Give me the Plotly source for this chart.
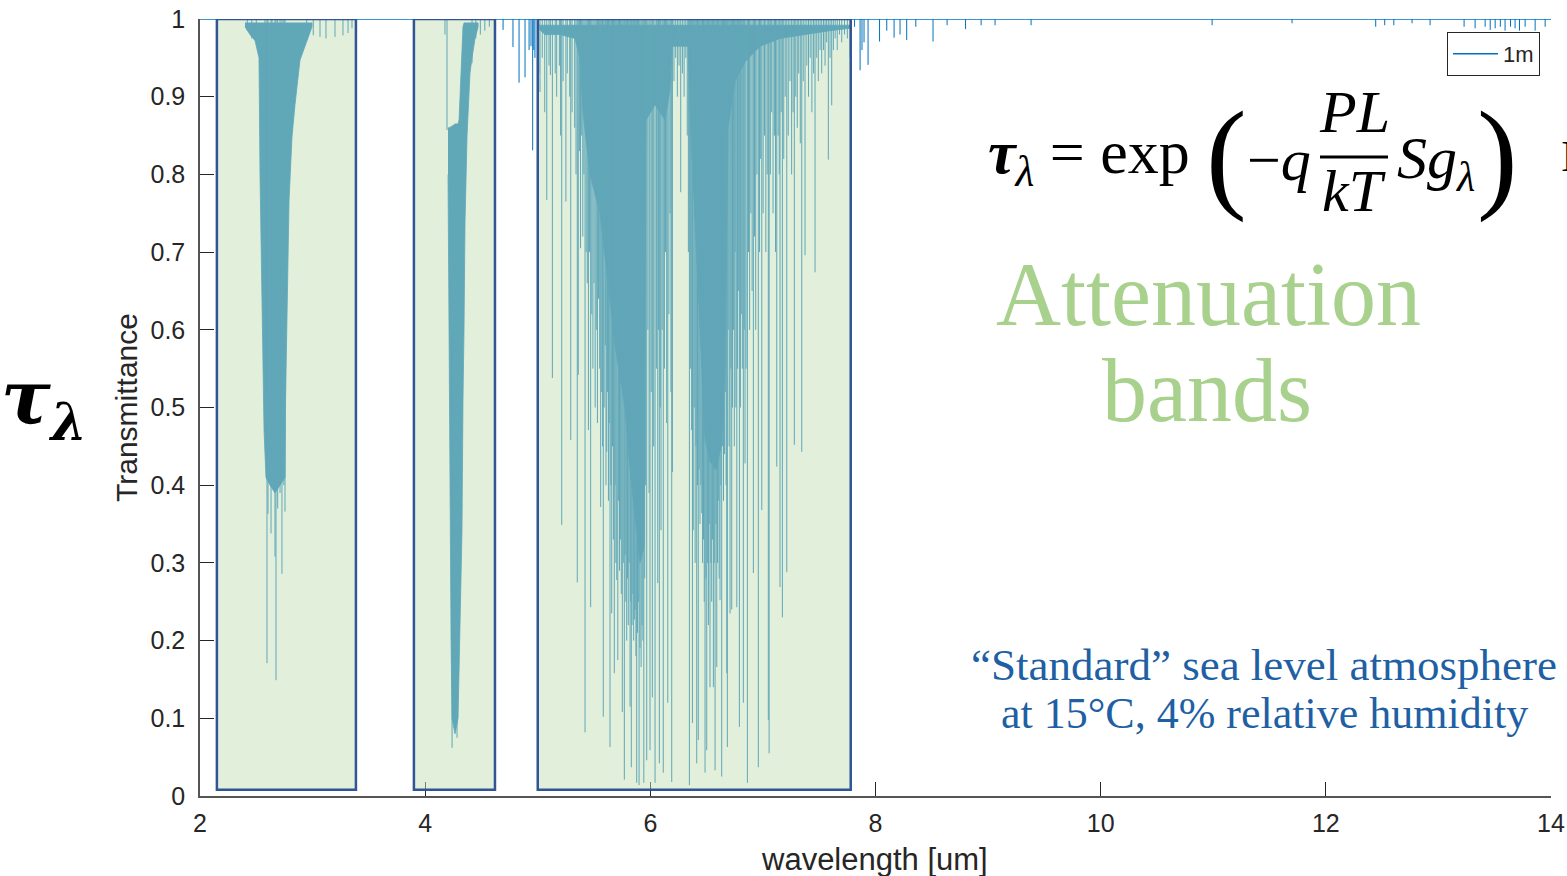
import plotly.graph_objects as go

# ---------------- data ----------------
x_ticks = [2, 4, 6, 8, 10, 12, 14]
y_ticks = [0, 0.1, 0.2, 0.3, 0.4, 0.5, 0.6, 0.7, 0.8, 0.9, 1.0]
y_tick_text = ["0", "0.1", "0.2", "0.3", "0.4", "0.5", "0.6", "0.7", "0.8", "0.9", "1"]

# continuum (no absorption)
cont_wl = [2.0, 14.0]
cont_tr = [1.0, 1.0]

# attenuation band rectangles
band_start = [2.15, 3.90, 5.00]
band_end = [3.385, 4.62, 7.78]
band_bottom = 0.008
band_top = 1.0

# densely absorbed regions: upper / lower envelope of the oscillating spectrum
b1_wl = [2.400, 2.444, 2.489, 2.524, 2.533, 2.542, 2.557, 2.569, 2.586, 2.622, 2.666,
         2.711, 2.755, 2.760, 2.773, 2.791, 2.817, 2.844, 2.888, 2.950, 2.995]
b1_hi = [0.995, 0.995, 0.995, 0.995, 0.995, 0.995, 0.995, 0.995, 0.995, 0.995, 0.995,
         0.995, 0.995, 0.995, 0.995, 0.995, 0.995, 0.995, 0.995, 0.995, 0.995]
b1_lo = [0.990, 0.980, 0.972, 0.950, 0.800, 0.745, 0.583, 0.470, 0.410, 0.400, 0.390,
         0.400, 0.410, 0.510, 0.625, 0.767, 0.848, 0.890, 0.947, 0.973, 0.990]

b2_wl = [4.203, 4.212, 4.221, 4.230, 4.239, 4.265, 4.292, 4.301, 4.310, 4.327, 4.336,
         4.345, 4.354, 4.372, 4.398, 4.416, 4.443, 4.470]
b2_hi = [0.860, 0.860, 0.860, 0.862, 0.862, 0.865, 0.865, 0.870, 0.900, 0.950, 0.990,
         0.995, 0.995, 0.995, 0.995, 0.995, 0.995, 0.995]
b2_lo = [0.800, 0.580, 0.400, 0.200, 0.100, 0.080, 0.100, 0.150, 0.230, 0.340, 0.510,
         0.600, 0.740, 0.850, 0.930, 0.950, 0.975, 0.990]

b3_wl = [5.003, 5.065, 5.198, 5.331, 5.375, 5.402, 5.464, 5.553, 5.624, 5.686, 5.731,
         5.775, 5.820, 5.864, 5.908, 5.944, 5.962, 6.042, 6.131, 6.175, 6.193, 6.335,
         6.362, 6.397, 6.442, 6.486, 6.530, 6.584, 6.629, 6.664, 6.690, 6.752, 6.841,
         6.974, 7.152, 7.374, 7.596, 7.774]
b3_hi = [0.992, 0.992, 0.992, 0.992, 0.992, 0.992, 0.992, 0.992, 0.992, 0.992, 0.992,
         0.992, 0.992, 0.992, 0.992, 0.992, 0.992, 0.992, 0.992, 0.992, 0.992, 0.992,
         0.992, 0.992, 0.992, 0.992, 0.992, 0.992, 0.992, 0.992, 0.992, 0.992, 0.992,
         0.992, 0.992, 0.992, 0.992, 0.992]
b3_lo = [0.988, 0.980, 0.980, 0.975, 0.950, 0.880, 0.800, 0.750, 0.660, 0.580, 0.540,
         0.500, 0.420, 0.360, 0.300, 0.320, 0.870, 0.890, 0.870, 0.910, 0.965, 0.965,
         0.850, 0.750, 0.600, 0.460, 0.430, 0.420, 0.450, 0.550, 0.860, 0.920, 0.945,
         0.965, 0.975, 0.980, 0.985, 0.988]

# individual absorption lines (wavelength, minimum transmittance), starting from 1
line_wl = [
    # band 1
    2.420, 2.460, 2.500, 2.577, 2.595, 2.604, 2.631, 2.640, 2.666, 2.675, 2.690, 2.711,
    2.728, 2.745, 2.755, 2.948, 3.006, 3.066, 3.119, 3.199, 3.270, 3.315, 3.350,
    # band 2 wings
    4.176, 4.194, 4.416, 4.450, 4.490, 4.530, 4.570,
    # between band 2 and 3
    4.692, 4.780, 4.834, 4.887, 4.923, 4.940, 4.955, 4.965, 4.975,
    # band 3
    5.010, 5.020, 5.040, 5.062, 5.080, 5.100, 5.112, 5.130, 5.155, 5.168, 5.192, 5.203,
    5.213, 5.225, 5.250, 5.262, 5.284, 5.293, 5.305, 5.328, 5.340, 5.351, 5.360, 5.370,
    5.380, 5.390, 5.400, 5.410, 5.420, 5.430, 5.440, 5.450, 5.460, 5.470, 5.480, 5.490,
    5.500, 5.510, 5.520, 5.530, 5.540, 5.550, 5.559, 5.568, 5.576, 5.582, 5.590, 5.600,
    5.606, 5.613, 5.620, 5.628, 5.635, 5.642, 5.650, 5.657, 5.664, 5.672, 5.680, 5.687,
    5.694, 5.702, 5.711, 5.718, 5.726, 5.734, 5.742, 5.751, 5.760, 5.769, 5.776, 5.783,
    5.790, 5.797, 5.804, 5.812, 5.820, 5.826, 5.831, 5.838, 5.845, 5.852, 5.858, 5.865,
    5.872, 5.879, 5.886, 5.893, 5.900, 5.908, 5.918, 5.926, 5.934, 5.942, 5.950, 5.958,
    5.968, 5.978, 5.989, 5.997, 6.008, 6.018, 6.030, 6.042, 6.054, 6.066, 6.073, 6.080,
    6.088, 6.095, 6.105, 6.115, 6.125, 6.135, 6.145, 6.155, 6.165, 6.175, 6.183, 6.190,
    6.196, 6.210, 6.225, 6.240, 6.255, 6.270, 6.285, 6.300, 6.315, 6.328, 6.338, 6.347,
    6.356, 6.367, 6.374, 6.381, 6.390, 6.398, 6.405, 6.412, 6.419, 6.426, 6.434, 6.441,
    6.449, 6.457, 6.464, 6.472, 6.479, 6.486, 6.494, 6.501, 6.509, 6.516, 6.523, 6.530,
    6.538, 6.545, 6.553, 6.560, 6.568, 6.575, 6.583, 6.590, 6.597, 6.604, 6.611, 6.619,
    6.627, 6.634, 6.642, 6.650, 6.658, 6.666, 6.673, 6.679, 6.684, 6.692, 6.700, 6.708,
    6.715, 6.723, 6.730, 6.738, 6.746, 6.753, 6.760, 6.768, 6.775, 6.782, 6.791, 6.800,
    6.808, 6.817, 6.826, 6.834, 6.841, 6.850, 6.862, 6.872, 6.882, 6.893, 6.904, 6.915,
    6.925, 6.936, 6.947, 6.959, 6.970, 6.980, 6.990, 7.002, 7.014, 7.026, 7.038, 7.048,
    7.055, 7.066, 7.078, 7.090, 7.102, 7.112, 7.123, 7.135, 7.145, 7.152, 7.162, 7.173,
    7.185, 7.198, 7.212, 7.225, 7.240, 7.255, 7.268, 7.279, 7.292, 7.305, 7.318, 7.332,
    7.345, 7.358, 7.374, 7.390, 7.405, 7.420, 7.435, 7.450, 7.463, 7.478, 7.492, 7.508,
    7.522, 7.538, 7.552, 7.566, 7.581, 7.596, 7.611, 7.626, 7.642, 7.660, 7.680, 7.700,
    7.725, 7.750, 7.775,
    # beyond band 3
    7.814, 7.863, 7.880, 7.898, 7.934, 8.036, 8.100, 8.165, 8.218, 8.277, 8.358, 8.511,
    8.636, 8.800, 8.938, 9.062, 9.382, 10.990, 11.700, 12.443, 12.523, 12.604, 12.766,
    12.926, 13.228, 13.326, 13.415, 13.460, 13.504, 13.550, 13.592, 13.640, 13.681,
    13.720, 13.770, 13.859, 13.948,
]
line_min = [
    0.985, 0.975, 0.970, 0.470, 0.171, 0.363, 0.338, 0.420, 0.308, 0.149, 0.370, 0.390,
    0.286, 0.400, 0.366, 0.973, 0.979, 0.977, 0.975, 0.977, 0.979, 0.982, 0.988,
    0.980, 0.857, 0.943, 0.975, 0.980, 0.985, 0.990,
    0.986, 0.964, 0.918, 0.925, 0.960, 0.965, 0.831, 0.960, 0.950,
    0.930, 0.906, 0.950, 0.880, 0.767, 0.940, 0.928, 0.538, 0.930, 0.900, 0.940, 0.850,
    0.349, 0.920, 0.765, 0.930, 0.900, 0.458, 0.880, 0.860, 0.800, 0.275, 0.542, 0.830,
    0.705, 0.850, 0.720, 0.800, 0.082, 0.700, 0.660, 0.471, 0.700, 0.243, 0.620, 0.550,
    0.660, 0.500, 0.600, 0.480, 0.640, 0.550, 0.372, 0.520, 0.450, 0.102, 0.500, 0.580,
    0.400, 0.443, 0.520, 0.380, 0.480, 0.063, 0.400, 0.235, 0.450, 0.330, 0.158, 0.400,
    0.300, 0.278, 0.175, 0.380, 0.290, 0.330, 0.260, 0.108, 0.300, 0.021, 0.310, 0.250,
    0.200, 0.280, 0.220, 0.300, 0.115, 0.250, 0.037, 0.220, 0.260, 0.200, 0.227, 0.240,
    0.180, 0.017, 0.210, 0.250, 0.014, 0.190, 0.166, 0.220, 0.200, 0.017, 0.280, 0.400,
    0.046, 0.600, 0.390, 0.059, 0.520, 0.127, 0.450, 0.017, 0.550, 0.274, 0.600, 0.042,
    0.500, 0.342, 0.600, 0.030, 0.550, 0.700, 0.480, 0.120, 0.620, 0.750, 0.520, 0.018,
    0.417, 0.920, 0.950, 0.900, 0.940, 0.777, 0.930, 0.900, 0.950, 0.850, 0.700, 0.014,
    0.550, 0.471, 0.094, 0.342, 0.500, 0.300, 0.450, 0.042, 0.400, 0.072, 0.420, 0.350,
    0.400, 0.364, 0.300, 0.330, 0.250, 0.030, 0.280, 0.059, 0.300, 0.220, 0.350, 0.140,
    0.300, 0.250, 0.330, 0.140, 0.300, 0.033, 0.350, 0.166, 0.300, 0.380, 0.280, 0.252,
    0.400, 0.025, 0.450, 0.380, 0.440, 0.520, 0.400, 0.158, 0.063, 0.600, 0.450, 0.235,
    0.550, 0.240, 0.500, 0.600, 0.450, 0.700, 0.500, 0.243, 0.550, 0.650, 0.089, 0.500,
    0.620, 0.550, 0.120, 0.600, 0.428, 0.550, 0.017, 0.700, 0.600, 0.750, 0.650, 0.287,
    0.720, 0.600, 0.800, 0.037, 0.700, 0.820, 0.368, 0.750, 0.850, 0.700, 0.800, 0.098,
    0.055, 0.800, 0.880, 0.750, 0.850, 0.700, 0.424, 0.850, 0.800, 0.269, 0.880, 0.230,
    0.820, 0.900, 0.288, 0.850, 0.920, 0.800, 0.880, 0.452, 0.900, 0.860, 0.930, 0.840,
    0.443, 0.920, 0.696, 0.940, 0.900, 0.950, 0.880, 0.930, 0.674, 0.950, 0.920, 0.960,
    0.930, 0.960, 0.940, 0.970, 0.819, 0.950, 0.889, 0.960, 0.975, 0.960, 0.980, 0.970,
    0.980, 0.975, 0.950,
    0.990, 0.934, 0.960, 0.970, 0.941, 0.971, 0.985, 0.976, 0.980, 0.973, 0.990, 0.971,
    0.992, 0.987, 0.992, 0.992, 0.992, 0.992, 0.9945, 0.990, 0.992, 0.992, 0.9945,
    0.992, 0.990, 0.988, 0.990, 0.986, 0.988, 0.990, 0.985, 0.990, 0.988,
    0.985, 0.990, 0.985, 0.990,
]
# deep CO2 lines inside the 4.3 um band (wavelength, start, minimum)
co2_wl = [4.239, 4.283]
co2_top = [0.60, 0.60]
co2_min = [0.062, 0.075]

# ---------------- styling ----------------
LINE = "#0072BD"
AX = "#262626"
W, H = 1567, 876
ML, MR, MT, MB = 200, 16, 19, 80
PW = W - ML - MR
PH = H - MT - MB


def px(xp):
    return (xp - ML) / PW


def py(yp):
    return (H - MB - yp) / PH


fig = go.Figure()

# dense regions
for wl, hi, lo in [(b1_wl, b1_hi, b1_lo), (b2_wl, b2_hi, b2_lo), (b3_wl, b3_hi, b3_lo)]:
    fig.add_trace(go.Scatter(x=wl + wl[::-1], y=hi + lo[::-1], mode="lines",
                             fill="toself", fillcolor=LINE,
                             line=dict(color=LINE, width=0.8),
                             showlegend=False, hoverinfo="skip"))

# individual lines
sx, sy = [], []
for w, m in zip(line_wl, line_min):
    sx += [w, w, None]
    sy += [1.0, m, None]
for w, t, m in zip(co2_wl, co2_top, co2_min):
    sx += [w, w, None]
    sy += [t, m, None]
fig.add_trace(go.Scatter(x=sx, y=sy, mode="lines", line=dict(color=LINE, width=1),
                         showlegend=False, hoverinfo="skip", cliponaxis=False))

# continuum / legend
fig.add_trace(go.Scatter(x=cont_wl, y=cont_tr, mode="lines", name="1m",
                         line=dict(color=LINE, width=1.5), cliponaxis=False))

# band rectangles (above the data, semi-transparent)
for a, b in zip(band_start, band_end):
    fig.add_shape(type="rect", xref="x", yref="y", x0=a, x1=b, y0=band_bottom, y1=band_top,
                  fillcolor="rgba(196,222,180,0.49)", line=dict(color="#2F5597", width=2.5),
                  layer="above")

ann = []
serif = "Liberation Serif"


def A(text, x, y, size, color="black", family=serif, xanchor="center", yanchor="middle", angle=0):
    ann.append(dict(text=text, x=px(x), y=py(y), xref="paper", yref="paper",
                    showarrow=False, xanchor=xanchor, yanchor=yanchor, textangle=angle,
                    font=dict(size=size, color=color, family=family)))


# left big tau_lambda
A("<b><i>τ</i></b><sub><b><i>λ</i></b></sub>", 44, 403, 74, family="DejaVu Serif")
# axis titles
A("Transmittance", 127, 408, 30, color=AX, family="Liberation Sans", angle=-90)
A("wavelength [um]", 874, 859, 31, color=AX, family="Liberation Sans")

# formula
A("<b><i>τ</i></b><sub><i>λ</i></sub> = exp", 986, 157, 62, xanchor="left")
A("(", 1226, 155, 122)
A("−<i>q</i>", 1279, 160, 60)
A("<i>PL</i>", 1354, 112, 60)
A("<i>kT</i>", 1354, 191, 60)
A("<i>S</i><i>g</i><sub><i>λ</i></sub>", 1436, 162, 60)
A(")", 1497, 155, 122)
A("I", 1559, 157, 44, xanchor="left")

# annotations
A("Attenuation", 1208, 295, 90, color="#A9D18E")
A("bands", 1207, 390, 90, color="#A9D18E")
A("“Standard” sea level atmosphere", 1264, 665, 45, color="#1F5FA3")
A("at 15°C, 4% relative humidity", 1264, 713, 44, color="#1F5FA3")

fig.add_shape(type="line", xref="paper", yref="paper",
              x0=px(1320), x1=px(1388), y0=py(157), y1=py(157),
              line=dict(color="black", width=3))

fig.update_layout(
    width=W, height=H,
    margin=dict(l=ML, r=MR, t=MT, b=MB, autoexpand=False),
    paper_bgcolor="white", plot_bgcolor="white",
    annotations=ann,
    showlegend=True,
    legend=dict(x=px(1540), xanchor="right", y=py(32), yanchor="top",
                bgcolor="white", bordercolor=AX, borderwidth=1,
                font=dict(size=22, color=AX, family="Liberation Sans"),
                itemwidth=45, tracegroupgap=0),
    xaxis=dict(range=[2, 14], tickvals=x_ticks, ticks="inside", ticklen=14, tickwidth=1.2,
               tickcolor=AX, showline=True, linecolor="#555555", linewidth=1.5,
               showgrid=False, zeroline=False, ticklabelstandoff=4, automargin=False,
               tickfont=dict(size=25, color=AX, family="Liberation Sans")),
    yaxis=dict(range=[0, 1.0], tickvals=y_ticks, ticktext=y_tick_text, ticks="inside",
               ticklen=14, tickwidth=1.2, tickcolor=AX, showline=True, linecolor="#555555",
               linewidth=1.5, showgrid=False, zeroline=False, ticklabelstandoff=8,
               automargin=False,
               tickfont=dict(size=25, color=AX, family="Liberation Sans")),
)

fig.write_html("out.html")
